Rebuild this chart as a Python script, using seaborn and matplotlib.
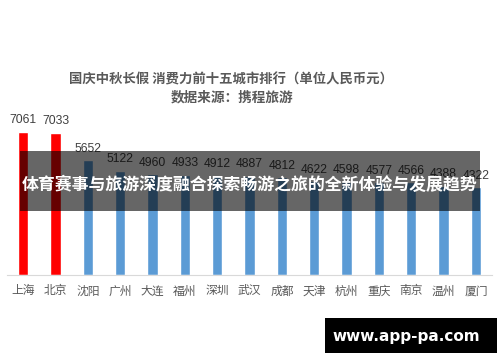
import matplotlib
matplotlib.use("Agg")
import matplotlib.pyplot as plt
import matplotlib.patches as mpatches
import seaborn as sns
import pandas as pd

cities = ["上海", "北京", "沈阳", "广州", "大连", "福州", "深圳", "武汉",
          "成都", "天津", "杭州", "重庆", "南京", "温州", "厦门"]
spend = [7061, 7033, 5652, 5122, 4960, 4933, 4912, 4887,
         4812, 4622, 4598, 4577, 4566, 4388, 4322]
bar_colors = ["#FF0000", "#FF0000"] + ["#5B9BD5"] * 13

title = "国庆中秋长假 消费力前十五城市排行（单位人民币元）"
subtitle = "数据来源：携程旅游"
banner = "体育赛事与旅游深度融合探索畅游之旅的全新体验与发展趋势"
watermark = "www.app-pa.com"

sns.set_style("white")
plt.rcParams["font.family"] = ["Noto Sans CJK SC", "DejaVu Sans"]

df = pd.DataFrame({"city": cities, "spend": spend})

fig = plt.figure(figsize=(5, 3.62), dpi=100)
ax = fig.add_axes([0.014, 0.241, 0.97, 0.447])
sns.barplot(data=df, x="city", y="spend", hue="city", palette=bar_colors,
            legend=False, width=0.31, ax=ax, saturation=1)
ax.set_xlim(-0.5, len(cities) - 0.5)
ax.set_ylim(0, 8000)
ax.set_xlabel("")
ax.set_ylabel("")
ax.set_yticks([])
for s in ["top", "left", "right"]:
    ax.spines[s].set_visible(False)
ax.spines["bottom"].set_color("#d9d9d9")
ax.tick_params(axis="x", length=0, pad=7, labelsize=8.5, labelcolor="#595959")

# value labels
for i, v in enumerate(spend):
    ax.text(i, v + 280, str(v), ha="center", va="bottom",
            fontsize=8.7, color="#404040", family="Liberation Sans")

fig.text(0.462, 1 - 79 / 362, title, ha="center", va="center",
         fontsize=9.6, color="#595959", weight="bold")
fig.text(0.464, 1 - 97 / 362, subtitle, ha="center", va="center",
         fontsize=9.8, color="#595959", weight="bold")

# dark overlay band with headline
fig.patches.append(mpatches.Rectangle((20 / 500, 1 - 211 / 362), 460 / 500, 60 / 362,
                                      transform=fig.transFigure, facecolor="black",
                                      alpha=0.6, edgecolor="none", zorder=5))
fig.text(0.5, 1 - 185 / 362, banner, ha="center", va="center",
         fontsize=12.2, color="white", weight="bold", zorder=6)

# watermark box
fig.patches.append(mpatches.Rectangle((325 / 500, 1 - 353 / 362), 172 / 500, 35 / 362,
                                      transform=fig.transFigure, facecolor="black",
                                      edgecolor="none", zorder=5))
fig.text(406 / 500, 1 - 336 / 362, watermark, ha="center", va="center",
         fontsize=11, color="white", weight="bold", family="DejaVu Sans", zorder=6)

fig.savefig("out.png", dpi=100)
